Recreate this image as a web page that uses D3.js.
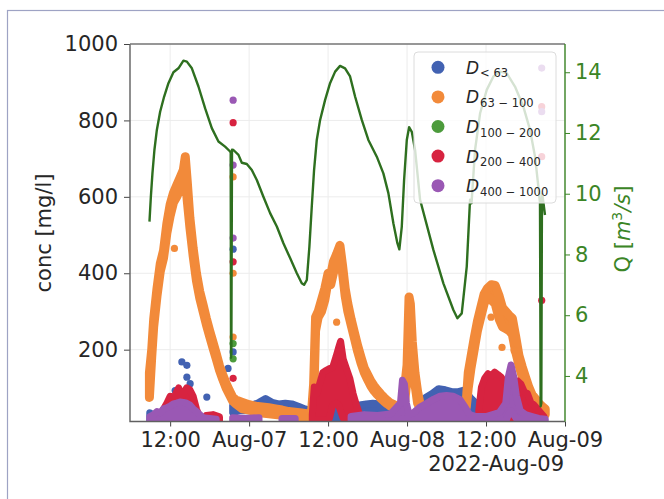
<!DOCTYPE html>
<html>
<head>
<meta charset="utf-8">
<script src="https://cdn.jsdelivr.net/npm/d3@7"></script>
<style>
body { margin: 0; background: #fff; }
text { font-family: "DejaVu Sans", sans-serif; }
</style>
</head>
<body>
<svg width="664" height="499"></svg>
<script>
// time is in hours since 2022-08-06 00:00 (UTC)
// discharge Q [m3/s]
const qT = [8.86, 9.07, 9.31, 9.61, 9.98, 10.48, 11.09, 11.74, 12.5, 13.26, 14.02, 14.54, 15.3, 16.3, 17.32, 18.33, 19.34,
  20.35, 21.11, 21.2, 21.25, 21.3, 21.4, 21.62, 22.38, 22.89, 23.65, 24.41, 25.17, 26.17, 27.19, 28.21, 29.21, 30.23,
  31.25, 32.0, 32.35, 32.77, 33.16, 33.52, 33.87, 34.28, 34.79, 35.55, 36.3, 37.07, 37.82, 38.58, 39.34, 40.1, 41.12,
  42.12, 43.4, 44.4, 45.16, 45.92, 46.53, 46.83, 47.2, 47.55, 47.96, 48.31, 48.72, 49.22, 49.98, 52.0, 53.52, 55.04,
  55.65, 56.31, 57.07, 57.57, 57.8, 58.33, 59.1, 60.11, 61.12, 62.13, 63.15, 64.4, 65.67, 66.69, 67.45, 67.95, 68.2,
  68.3, 68.4, 68.5, 68.6, 68.96];
const qV = [9.08, 9.9, 10.67, 11.44, 12.1, 12.7, 13.2, 13.64, 14.0, 14.13, 14.38, 14.35, 14.13, 13.53, 12.81, 12.16, 11.72,
  11.55, 11.39, 11.35, 4.6, 4.7, 11.45, 11.44, 11.28, 11.02, 10.98, 10.78, 10.45, 9.9, 9.36, 8.92, 8.37, 7.88,
  7.38, 7.05, 7.0, 7.16, 8.26, 9.57, 10.78, 11.77, 12.43, 13.09, 13.64, 14.02, 14.21, 14.13, 13.86, 13.2, 12.43,
  11.77, 11.22, 10.67, 10.02, 9.03, 8.37, 8.17, 8.92, 10.45, 11.77, 12.19, 12.04, 11.44, 9.8, 8.15, 7.05, 6.17,
  5.9, 6.06, 7.6, 9.8, 9.69, 11.44, 12.65, 13.42, 13.86, 14.02, 13.97, 13.53, 12.87, 12.1, 11.22, 10.23, 9.69,
  3.0, 3.1, 10.0, 9.9, 9.3];

// concentration bands: [hour, low, high] (null = gap)
const blue = [
  [8.9, 15, 35], [9.5, 15, 28], null,
  [21.5, 35, 55], [22.5, 40, 60], [23.5, 40, 58], [24.5, 40, 55], [25.5, 42, 62], [26.5, 45, 72], [27.5, 42, 62],
  [28.5, 40, 58], [29.5, 40, 60], [30.5, 38, 58], [31.5, 35, 52], [32.5, 30, 45], [33.3, 25, 40], null,
  [35.8, 12, 40], [36.5, 12, 55], [37.2, 12, 60], [37.8, 12, 50], [38.4, 12, 35], null,
  [39.8, 25, 45], [40.8, 35, 55], [41.8, 38, 58], [42.8, 40, 60], [43.8, 40, 58], [44.8, 40, 55], [45.8, 38, 55], [46.8, 35, 50], null,
  [49.8, 30, 50], [50.8, 40, 75], [51.8, 45, 85], [52.8, 55, 98], [53.8, 55, 95], [54.8, 55, 90], [55.8, 50, 90],
  [56.8, 45, 95], [57.6, 40, 75], [58.5, 30, 60], null,
  [61, 15, 40], [62.5, 15, 45], [64, 15, 50], [65.5, 15, 45], [67, 15, 35], [68.5, 15, 30]
];
const orange = [
  [8.85, 75, 140], [9.2, 180, 200], [9.5, 260, 280], [10.0, 340, 360], [10.5, 405, 425], [11.0, 440, 460], [11.5, 505, 530],
  [12.0, 550, 580], [12.5, 585, 610], [13.0, 600, 630], [13.5, 620, 650], [14.0, 640, 670], [14.3, 660, 705], [14.6, 590, 640],
  [15.0, 520, 545], [15.5, 445, 465], [16.0, 380, 400], [16.5, 335, 352], [17.0, 300, 318], [17.5, 266, 282], [18.0, 235, 250],
  [18.5, 205, 220], [19.0, 176, 190], [19.5, 146, 158], [20.0, 122, 134], [20.5, 100, 112], [21.0, 83, 93], [21.5, 66, 76],
  [22.0, 58, 68], [23.0, 45, 62], [24.0, 42, 56], [25.0, 38, 52], [26.0, 34, 50], [27.0, 32, 48], [28.0, 30, 45],
  [29.0, 28, 42], [30.0, 26, 38], [31.0, 24, 36], [32.0, 22, 34], [33.0, 22, 32], [33.5, 25, 40], [33.8, 60, 110],
  [34.1, 250, 285], [34.5, 285, 300], [35.0, 300, 330], [35.5, 330, 360], [36.0, 380, 400], [36.4, 370, 395], [36.8, 400, 430],
  [37.3, 430, 450], [37.8, 440, 473], [38.2, 400, 420], [38.6, 340, 360], [39.0, 300, 320], [39.5, 265, 280], [40.0, 230, 245],
  [40.5, 195, 210], [41.0, 165, 180], [41.5, 140, 152], [42.0, 122, 135], [42.5, 105, 118], [43.0, 92, 105], [43.5, 82, 94],
  [44.0, 73, 84], [44.5, 65, 75], [45.0, 58, 67], [45.5, 52, 60], [46.0, 48, 56], [46.5, 44, 52], [47.0, 40, 48],
  [47.5, 45, 80], [48.0, 120, 160], [48.3, 280, 338], [48.5, 260, 320], [48.8, 180, 220], [49.2, 110, 140], [49.6, 60, 90],
  [50.0, 45, 55], [51.0, 30, 38], [52.0, 25, 32], [53.0, 22, 30], [54.0, 20, 28], [55.0, 20, 28], [56.0, 20, 30],
  [56.6, 30, 45], [57.0, 50, 65], [57.3, 100, 140], [57.7, 150, 180], [58.2, 200, 230], [58.7, 250, 275], [59.2, 285, 310],
  [59.7, 320, 345], [60.2, 340, 360], [60.8, 330, 370], [61.4, 320, 368], [62.0, 280, 340], [62.5, 260, 310], [63.0, 255, 300],
  [63.5, 250, 290], [64.0, 240, 282], [64.5, 195, 235], [65.0, 160, 185], [65.5, 130, 155], [66.0, 100, 128], [66.5, 80, 102],
  [67.0, 65, 82], [67.5, 55, 72], [68.0, 45, 60], [68.5, 38, 52], [69.0, 30, 45]
];
const red = [
  [10.6, 15, 30], [11.0, 15, 45], [11.5, 15, 60], [12.0, 20, 78], [12.5, 20, 70], [13.0, 25, 90], [13.3, 30, 100],
  [13.7, 30, 75], [14.0, 25, 85], [14.5, 20, 100], [15.0, 20, 95], [15.5, 15, 78], [16.0, 15, 45], [16.5, 15, 22], null,
  [17.5, 14, 28], [18.5, 14, 30], [19.5, 14, 24], null,
  [33.6, 15, 30], [33.9, 15, 102], [34.3, 15, 85], [34.7, 15, 110], [35.2, 15, 140], [35.7, 15, 146], [36.2, 20, 150],
  [36.7, 55, 154], [37.2, 60, 181], [37.6, 55, 205], [37.9, 40, 222], [38.3, 20, 175], [38.8, 15, 150], [39.3, 15, 125],
  [39.8, 15, 85], [40.3, 15, 55], [40.8, 15, 30], null,
  [58.9, 15, 40], [59.3, 15, 102], [59.8, 15, 125], [60.3, 20, 137], [60.8, 25, 130], [61.3, 25, 141], [61.8, 20, 135],
  [62.3, 20, 128], [62.8, 25, 115], [63.3, 20, 106], [63.8, 15, 95], [64.3, 15, 85], [64.8, 15, 118], [65.3, 15, 110],
  [65.8, 15, 90], [66.3, 15, 85], [66.8, 15, 62], [67.3, 15, 55], [67.8, 15, 45], [68.3, 15, 35], [68.8, 15, 25]
];
const purple = [
  [8.9, 12, 25], [9.5, 12, 30], [10.0, 12, 38], [10.5, 12, 35], [11.0, 12, 45], [11.5, 12, 48], [12.0, 12, 52], [12.5, 12, 58],
  [13.0, 12, 60], [13.5, 12, 63], [14.0, 12, 62], [14.5, 12, 60], [15.0, 12, 55], [15.5, 12, 45], [16.0, 12, 38], [16.5, 12, 30],
  [17.0, 12, 22], [18.0, 12, 20], [19.0, 12, 18], null,
  [21.5, 12, 22], [23.5, 12, 20], [25.5, 12, 22], null,
  [29.0, 12, 20], [31.0, 12, 20], null,
  [39.5, 12, 25], [41.5, 12, 30], [43.5, 12, 28], [45.5, 12, 32], [47.0, 12, 60], [47.3, 20, 120], [47.6, 20, 110],
  [47.9, 12, 60], [48.3, 12, 30], [49.0, 12, 35], [50.0, 12, 50], [51.0, 12, 60], [52.0, 12, 70], [53.0, 12, 78],
  [54.0, 12, 80], [55.0, 12, 78], [56.0, 12, 70], [56.8, 12, 50], [57.5, 12, 30], [58.5, 12, 25], [60.0, 12, 25],
  [61.0, 12, 30], [62.0, 12, 35], [63.0, 12, 60], [63.4, 30, 130], [63.8, 40, 160], [64.2, 30, 130], [64.6, 20, 80],
  [65.2, 12, 40], [66.0, 12, 30], [67.0, 12, 25], [68.0, 12, 20], [69.0, 12, 18]
];

// isolated points: [hour, conc]
const blueDots = [[12.76, 93], [13.78, 168], [14.54, 159], [14.54, 128], [15.04, 111], [17.57, 76], [20.8, 151],
  [21.57, 194], [21.57, 463], [37.57, 72], [59.6, 106]];
const orangeDots = [[12.65, 465], [21.57, 652], [21.57, 400], [21.57, 233], [37.3, 272], [60.76, 285], [62.43, 206], [64.26, 198]];
const greenDots = [[21.57, 216], [21.57, 176]];
const redDots = [[21.57, 794], [21.57, 430], [21.57, 125], [68.46, 329], [68.46, 705], [68.46, 836]];
const purpleDots = [[21.57, 853], [21.57, 683], [21.57, 492], [68.46, 937], [68.46, 823]];

const seriesNames = ["< 63", "63 \u2212 100", "100 \u2212 200", "200 \u2212 400", "400 \u2212 1000"];
const seriesColors = ["#4262b2", "#f28a3a", "#4c9b3c", "#d72340", "#9a58b4"];
const concTicks = [200, 400, 600, 800, 1000];
const qTicks = [4, 6, 8, 10, 12, 14];

const base = Date.UTC(2022, 7, 6);
const toDate = h => new Date(base + h * 3600e3);

const svg = d3.select("svg");
const box = {left: 130, right: 565, top: 44, bottom: 421.5};

const x = d3.scaleUtc().domain([toDate(5.9), toDate(72)]).range([box.left, box.right]);
const yL = d3.scaleLinear().domain([12, 1000]).range([box.bottom, box.top]);
const yR = d3.scaleLinear().domain([2.5, 14.93]).range([box.bottom, box.top]);

// outer frame of the scanned figure
svg.append("rect").attr("x", 7.5).attr("y", 10.5).attr("width", 700).attr("height", 600)
  .attr("fill", "none").attr("stroke", "#9ea3c4").attr("stroke-width", 1.2);

svg.append("clipPath").attr("id", "plot")
  .append("rect").attr("x", box.left).attr("y", box.top)
  .attr("width", box.right - box.left).attr("height", box.bottom - box.top);

const xTicks = d3.utcHour.every(12).range(toDate(12), toDate(72.01));
const fmt = d => d.getUTCHours() === 0 ? d3.utcFormat("%b-%d")(d) : d3.utcFormat("%H:%M")(d);

// grid
const grid = svg.append("g").attr("stroke", "#ececec").attr("stroke-width", 1);
grid.selectAll(".gx").data(xTicks).join("line")
  .attr("x1", d => x(d)).attr("x2", d => x(d)).attr("y1", box.top).attr("y2", box.bottom);
grid.selectAll(".gy").data(concTicks).join("line")
  .attr("x1", box.left).attr("x2", box.right).attr("y1", d => yL(d)).attr("y2", d => yL(d));

const vis = svg.append("g").attr("clip-path", "url(#plot)");

const band = d3.area()
  .defined(d => d !== null)
  .x(d => x(toDate(d[0])))
  .y0(d => yL(d[1]))
  .y1(d => yL(d[2]));

function drawSeries(rows, dots, color, thick) {
  if (rows) {
    vis.append("path").datum(rows).attr("d", band)
      .attr("fill", color).attr("stroke", color).attr("stroke-width", thick)
      .attr("stroke-linejoin", "round").attr("stroke-linecap", "round");
  }
  vis.append("g").selectAll("circle").data(dots).join("circle")
    .attr("cx", d => x(toDate(d[0]))).attr("cy", d => yL(d[1])).attr("r", 3.6)
    .attr("fill", color);
}

drawSeries(blue, blueDots, seriesColors[0], 7);
drawSeries(orange, orangeDots, seriesColors[1], 9);
drawSeries(null, greenDots, seriesColors[2], 7);
drawSeries(red, redDots, seriesColors[3], 7);
drawSeries(purple, purpleDots, seriesColors[4], 7);

// discharge line on the twin axis
const qLine = d3.line().x((d, i) => x(toDate(qT[i]))).y(d => yR(d));
vis.append("path").datum(qV).attr("d", qLine)
  .attr("fill", "none").attr("stroke", "#2e6f1f").attr("stroke-width", 2.4)
  .attr("stroke-linejoin", "round");

// axes
const textColor = "#262626";
const qColor = "#3b8526";

const xAxis = svg.append("g").attr("transform", `translate(0,${box.bottom})`)
  .call(d3.axisBottom(x).tickValues(xTicks).tickFormat(fmt).tickSize(5).tickSizeOuter(0).tickPadding(6));
const yAxisL = svg.append("g").attr("transform", `translate(${box.left},0)`)
  .call(d3.axisLeft(yL).tickValues(concTicks).tickFormat(d3.format("d")).tickSize(6).tickSizeOuter(0).tickPadding(6));
const yAxisR = svg.append("g").attr("transform", `translate(${box.right},0)`)
  .call(d3.axisRight(yR).tickValues(qTicks).tickSize(5).tickSizeOuter(0).tickPadding(5));

[xAxis, yAxisL, yAxisR].forEach(a => {
  a.select(".domain").remove();
  a.selectAll("text").attr("font-size", 21).attr("font-family", "DejaVu Sans");
});
xAxis.selectAll("line").attr("stroke", "#444");
yAxisL.selectAll("line").attr("stroke", "#444");
xAxis.selectAll("text").attr("fill", textColor);
yAxisL.selectAll("text").attr("fill", textColor);
yAxisR.selectAll("line").attr("stroke", qColor);
yAxisR.selectAll("text").attr("fill", qColor);

// spines
const spines = svg.append("g").attr("fill", "none").attr("stroke-width", 1.4);
spines.append("path").attr("d", `M${box.left},${box.top}V${box.bottom}H${box.right}`).attr("stroke", "#606060");
spines.append("path").attr("d", `M${box.left},${box.top}H${box.right}`).attr("stroke", "#777");
spines.append("path").attr("d", `M${box.right},${box.top}V${box.bottom}`).attr("stroke", qColor);

// offset label of the date axis
svg.append("text").attr("x", 564).attr("y", 471).attr("text-anchor", "end")
  .attr("font-size", 21).attr("fill", textColor).text("2022-Aug-09");

// axis titles
svg.append("text").attr("transform", "translate(51,233) rotate(-90)").attr("text-anchor", "middle")
  .attr("font-size", 21).attr("fill", textColor).text("conc [mg/l]");

const qLabel = svg.append("text").attr("transform", "translate(630,229) rotate(-90)").attr("text-anchor", "middle")
  .attr("font-size", 21).attr("fill", qColor);
qLabel.append("tspan").text("Q [");
qLabel.append("tspan").attr("font-style", "italic").text("m");
qLabel.append("tspan").attr("font-size", 14).attr("dy", -8).text("3");
qLabel.append("tspan").attr("font-style", "italic").attr("dy", 8).text("/s");
qLabel.append("tspan").text("]");

// legend
const legend = svg.append("g");
legend.append("rect").attr("x", 414).attr("y", 52).attr("width", 142).attr("height", 151).attr("rx", 4)
  .attr("fill", "#fff").attr("fill-opacity", 0.8).attr("stroke", "#dcdcdc");
const items = legend.selectAll("g.item").data(seriesNames).join("g")
  .attr("transform", (d, i) => `translate(0,${67.3 + i * 29.6})`);
items.append("circle").attr("cx", 438).attr("cy", 0).attr("r", 6.5).attr("fill", (d, i) => seriesColors[i]);
const label = items.append("text").attr("x", 466).attr("y", 6.5).attr("fill", textColor);
label.append("tspan").attr("font-style", "italic").attr("font-size", 17).text("D");
label.append("tspan").attr("font-size", 11.5).attr("dx", 1).attr("dy", 3.5).text(d => d);
</script>
</body>
</html>
